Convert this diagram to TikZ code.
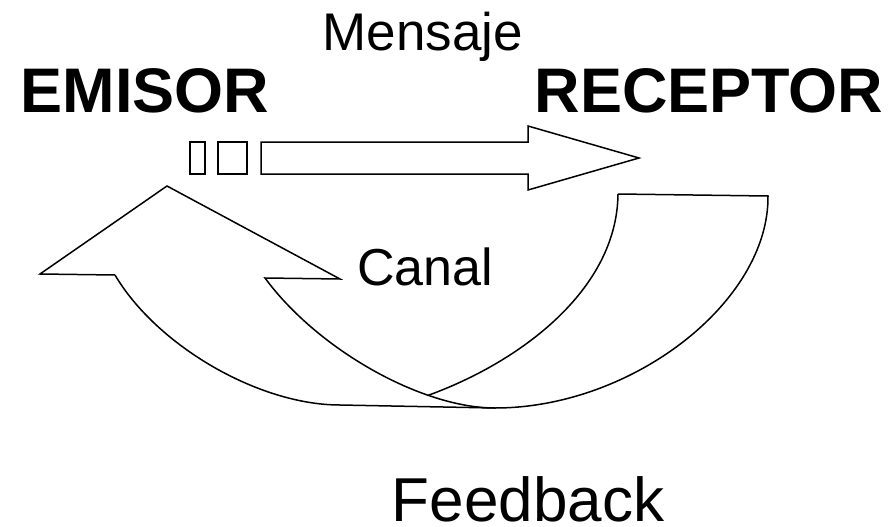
\documentclass[tikz,border=0pt]{standalone}
\usepackage{fontspec}
\setmainfont{Liberation Sans}
\begin{document}
\begin{tikzpicture}[x=1pt,y=-1pt,
  outline/.style={draw=black,line width=1.5pt,line join=miter},
  label/.style={inner sep=0pt,anchor=base},
  bigbold/.style={label,font=\fontsize{63}{70}\selectfont\bfseries},
  plain/.style={label,font=\fontsize{53}{60}\selectfont}]
\useasboundingbox (0,0) rectangle (894,527);

% --- texts
\node[plain]   (mensaje)  at (423,51)  {Mensaje};
\node[bigbold] (emisor)   at (145,112) {EMISOR};
\node[bigbold] (receptor) at (709,112) {RECEPTOR};
\node[plain,font=\fontsize{52}{60}\selectfont]  (canal)    at (425,285) {Canal};
\node[plain,text depth=0pt,font=\fontsize{62}{70}\selectfont]  (feedback) at (528,521) {Feedback};

% --- message: two small blocks and the block arrow
\draw[outline] (190,142) rectangle (205,174);
\draw[outline] (218,142) rectangle (247,174);
\draw[outline] (261,142) -- (528,142) -- (528,126) -- (639,158)
  -- (528,190) -- (528,174) -- (261,174) -- cycle;

% --- curved feedback arrow
\coordinate (hl) at (40,274);    % left barb
\coordinate (tip) at (167,186);  % arrow tip
\coordinate (hr) at (340,279);   % right barb
\coordinate (bo) at (115,275);   % band, outer edge start
\coordinate (bi) at (265,278);   % band, inner edge start
\coordinate (M) at (495,408);    % bottom meeting point
\coordinate (uo) at (768,196);   % tail, outer top corner
\coordinate (ui) at (618,194);   % tail, inner top corner

\draw[outline] (bo) -- (hl) -- (tip) -- (hr) -- (bi)
  .. controls (318,350) and (422,408) .. node[pos=0.72,coordinate] (C) {} (M)
  .. controls (632,408) and (769,302) .. (uo)
  -- (ui);
\draw[outline] (ui) .. controls (617,290) and (520,362) .. (C);
\draw[outline] (bo) .. controls (157,346) and (259,405) .. (340,405) -- (M);
\end{tikzpicture}
\end{document}
